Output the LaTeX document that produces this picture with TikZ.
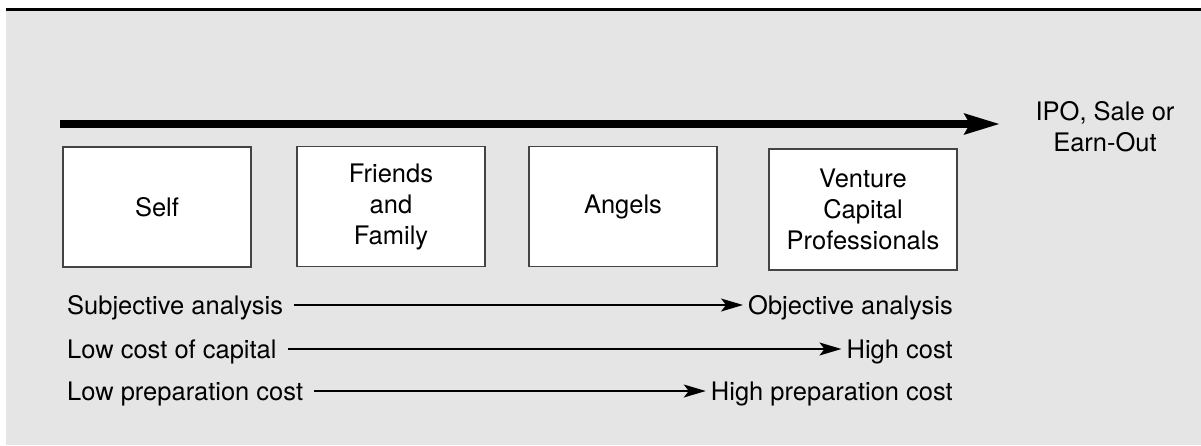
\documentclass[tikz,border=0pt]{standalone}
\usepackage{fontspec}
\setmainfont{TeX Gyre Heros}
\usepackage{xcolor}
\usetikzlibrary{arrows.meta,calc,positioning}
\definecolor{panelgray}{HTML}{E5E5E5}
\definecolor{boxline}{HTML}{444444}
\tikzset{
  stagebox/.style={draw=boxline,line width=1.4pt,fill=white,minimum width=188pt,minimum height=120pt,align=center,inner sep=0pt},
  rowtext/.style={inner sep=0pt,text height=18pt,text depth=0pt},
  thinarrow/.style={line width=1.4pt,-{Stealth[length=22pt,width=13pt,inset=5pt]},shorten <=11pt,shorten >=5pt},
  bigarrow/.style={line width=8pt,-{Stealth[length=35pt,width=20pt,inset=5pt]}}
}
\begin{document}
\begin{tikzpicture}[x=1pt,y=-1pt,font=\fontsize{25.5}{31}\selectfont]
\useasboundingbox (0,0) rectangle (1201,445);
\fill[panelgray] (6,10) rectangle (1201,445);
\draw[line width=2.5pt] (6,9.5) -- (1201,9.5);
% the stages
\coordinate (start) at (60,124);
\coordinate (end) at (1000,124);
\draw[bigarrow] (start) -- (end);
\node[align=center] (exit) at (1105,127) {IPO, Sale or\\Earn-Out};
\node[stagebox] (self) at (157,207) {Self};
\node[stagebox] (friends) at (391,206.5) {Friends\\and\\Family};
\node[stagebox] (angels) at (623,206.5) {Angels};
\node[stagebox,minimum height=121pt] (venture) at (863,209.5) {Venture\\Capital\\Professionals};
% the scales below
\foreach \n/\y/\l/\r in {a/305/Subjective analysis/Objective analysis,b/349/Low cost of capital/High cost,c/391/Low preparation cost/High preparation cost}{
  \node[rowtext,anchor=west] (l\n) at (67,\y) {\l};
  \node[rowtext,anchor=east] (r\n) at (953,\y) {\r};
  \draw[thinarrow] (l\n) -- (r\n);
}
\end{tikzpicture}
\end{document}
